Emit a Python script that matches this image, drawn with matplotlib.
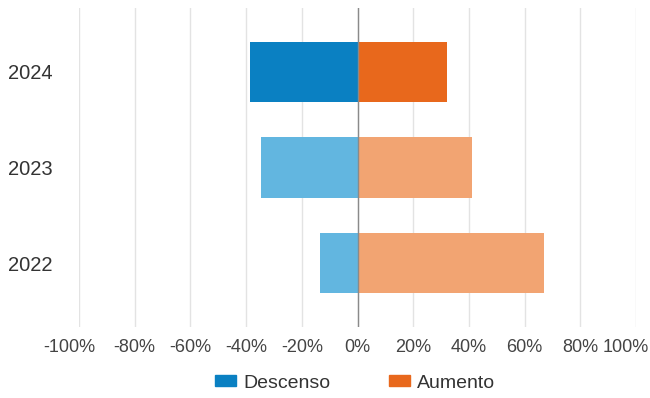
import matplotlib
matplotlib.use('Agg')
import matplotlib.pyplot as plt
import matplotlib.transforms as mtransforms
import numpy as np
from matplotlib.patches import Patch

plt.rcParams['font.family'] = ['Liberation Sans', 'DejaVu Sans']

years = ['2022', '2023', '2024']
descenso = [-13.6, -34.5, -38.5]
aumento = [67, 41, 32]
xticks = [-100, -80, -60, -40, -20, 0, 20, 40, 60, 80, 100]
xlabels = ['-100%', '-80%', '-60%', '-40%', '-20%', '0%', '20%', '40%', '60%', '80%', '100%']

blue_dark, blue_light = '#0A80C2', '#62B6E0'
orange_dark, orange_light = '#E8681C', '#F2A472'

fig = plt.figure(figsize=(6.5, 3.98), dpi=100)
ax = fig.add_axes([79/650, 1-327/398, 557/650, 319/398])

y = np.arange(len(years))
neg_colors = [blue_light, blue_light, blue_dark]
pos_colors = [orange_light, orange_light, orange_dark]
ax.barh(y, descenso, height=0.63, color=neg_colors, zorder=2)
ax.barh(y, aumento, height=0.63, color=pos_colors, zorder=2)

for xt in xticks:
    ax.axvline(xt, color='#e3e3e3', lw=1, zorder=1)
ax.axvline(0, color='#8a8a8a', lw=1, zorder=3)

ax.set_xlim(-100, 100)
ax.set_ylim(-0.67, 2.67)
ax.set_xticks(xticks)
ax.set_xticklabels(xlabels)
ax.set_yticks(y)
ax.set_yticklabels(years)
ax.tick_params(axis='x', length=0, pad=9, labelsize=13, labelcolor='#444444')
ax.tick_params(axis='y', length=0, pad=19, labelsize=14.5, labelcolor='#333333')
for s in ax.spines.values():
    s.set_visible(False)

# pull the outermost labels inward so they stay inside the figure
shift = mtransforms.ScaledTranslation(-10/100, 0, fig.dpi_scale_trans)
labels = ax.get_xticklabels()
for lab in (labels[0], labels[-1]):
    lab.set_transform(lab.get_transform() + shift)

handles = [Patch(color=blue_dark, label='Descenso'),
           Patch(color=orange_dark, label='Aumento')]
fig.legend(handles=handles, loc='center', bbox_to_anchor=(355/650, 1-383/398),
           ncol=2, frameon=False, fontsize=14, handlelength=1.1, handleheight=0.45,
           handletextpad=0.35, columnspacing=3.0, labelcolor='#333333')

plt.savefig('out.png', dpi=100)
